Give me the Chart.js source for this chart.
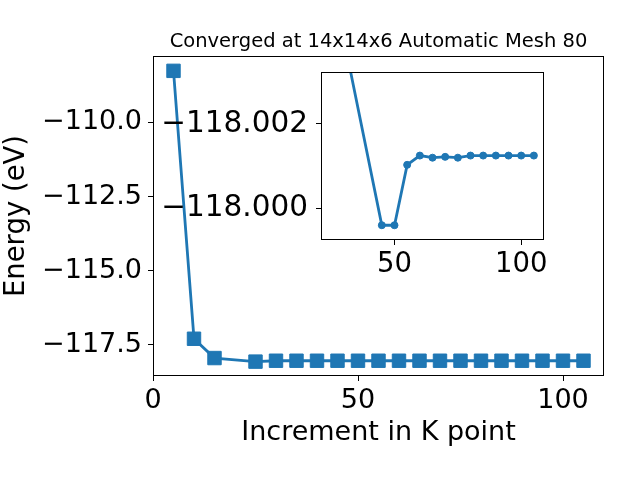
<!DOCTYPE html>
<html>
<head>
<meta charset="utf-8">
<script src="https://cdn.jsdelivr.net/npm/chart.js@4.4.1/dist/chart.umd.min.js"></script>
<style>
  body { margin: 0; background: #fff; }
  #wrap { position: relative; width: 640px; height: 480px; }
  #wrap canvas { position: absolute; left: 0; top: 0; }
</style>
</head>
<body>
<div id="wrap">
  <canvas id="mainChart" width="640" height="480"></canvas>
  <canvas id="insetChart" width="640" height="480"></canvas>
</div>
<script>
// main curve: total energy vs k-point increment
const kPoints = [5, 10, 15, 25, 30, 35, 40, 45, 50, 55, 60, 65, 70, 75, 80, 85, 90, 95, 100, 105];
const energies = [-108.27, -117.29, -117.94, -118.06, -118.03, -118.03, -118.03, -118.03, -118.03, -118.03,
  -118.03, -118.03, -118.03, -118.03, -118.03, -118.03, -118.03, -118.03, -118.03, -118.03];
const xTicks = [0, 50, 100];
const yTicks = [-117.5, -115, -112.5, -110];

// inset: zoom on the converged part
const insetK = [25, 45, 50, 55, 60, 65, 70, 75, 80, 85, 90, 95, 100, 105];
const insetE = [-118.0055, -117.9996, -117.9996, -118.00103, -118.00125, -118.0012, -118.00122, -118.0012,
  -118.00125, -118.00125, -118.00125, -118.00125, -118.00125, -118.00125];
const insetXTicks = [50, 100];
const insetYTicks = [-118.002, -118.000];

const titleText = 'Converged at 14x14x6 Automatic Mesh 80';
const blue = '#1f77b4';
const font = 'DejaVu Sans';

const minus = (s) => s.replace('-', '\u2212');

// black box round the plot area, optional white fill
const framePlugin = {
  id: 'frame',
  beforeDatasetsDraw(chart, args, opts) {
    const a = chart.chartArea;
    if (opts.fill) {
      chart.ctx.save();
      chart.ctx.fillStyle = '#fff';
      chart.ctx.fillRect(a.left, a.top, a.right - a.left, a.bottom - a.top);
      chart.ctx.restore();
    }
  },
  afterDraw(chart) {
    const a = chart.chartArea;
    const ctx = chart.ctx;
    ctx.save();
    ctx.strokeStyle = '#000';
    ctx.lineWidth = 1;
    ctx.strokeRect(Math.round(a.left) + 0.5, Math.round(a.top) + 0.5,
      Math.round(a.right - a.left) - 1, Math.round(a.bottom - a.top) - 1);
    ctx.restore();
  }
};

const titlePlugin = {
  id: 'plotTitle',
  afterDraw(chart) {
    const a = chart.chartArea;
    const ctx = chart.ctx;
    ctx.save();
    ctx.font = '19.5px "' + font + '"';
    ctx.fillStyle = '#000';
    ctx.textAlign = 'center';
    ctx.textBaseline = 'alphabetic';
    ctx.fillText(titleText, (a.left + a.right) / 2, 47);
    ctx.restore();
  }
};

const tickGrid = { display: true, drawOnChartArea: false, drawTicks: true, tickLength: 5, color: '#000' };

new Chart(document.getElementById('mainChart'), {
  type: 'line',
  data: {
    datasets: [{
      data: kPoints.map((k, i) => ({ x: k, y: energies[i] })),
      borderColor: blue,
      backgroundColor: blue,
      borderWidth: 2.8,
      pointStyle: 'rect',
      pointRadius: 9.5,
      pointBorderWidth: 1,
      pointBorderColor: blue,
      pointBackgroundColor: blue,
      tension: 0,
      fill: false
    }]
  },
  options: {
    responsive: false,
    animation: false,
    layout: { padding: { top: 56, right: 36, left: 0, bottom: 0 } },
    plugins: { legend: { display: false }, tooltip: { enabled: false }, frame: { fill: false } },
    scales: {
      x: {
        type: 'linear',
        min: 0,
        max: 110,
        grid: tickGrid,
        border: { display: false },
        afterBuildTicks: (s) => { s.ticks = xTicks.map(v => ({ value: v })); },
        afterFit: (s) => { s.height = 104; },
        ticks: { color: '#000', padding: 4, maxRotation: 0, font: { family: font, size: 27 }, callback: (v) => String(v) },
        title: { display: true, text: 'Increment in K point', color: '#000', padding: { top: 0, bottom: 31 }, font: { family: font, size: 27 } }
      },
      y: {
        type: 'linear',
        min: -118.544,
        max: -107.77,
        grid: tickGrid,
        border: { display: false },
        afterBuildTicks: (s) => { s.ticks = yTicks.map(v => ({ value: v })); },
        afterFit: (s) => { s.width = 153; },
        ticks: { color: '#000', padding: 6, font: { family: font, size: 27 }, callback: (v) => minus(v.toFixed(1)) },
        title: { display: true, text: 'Energy (eV)', color: '#000', padding: { top: 0, bottom: 0 }, font: { family: font, size: 27.5 } }
      }
    }
  },
  plugins: [framePlugin, titlePlugin]
});

new Chart(document.getElementById('insetChart'), {
  type: 'line',
  data: {
    datasets: [{
      data: insetK.map((k, i) => ({ x: k, y: insetE[i] })),
      borderColor: blue,
      backgroundColor: blue,
      borderWidth: 2.8,
      pointStyle: 'circle',
      pointRadius: 3.5,
      pointBorderWidth: 1,
      pointBorderColor: blue,
      pointBackgroundColor: blue,
      tension: 0,
      fill: false
    }]
  },
  options: {
    responsive: false,
    animation: false,
    layout: { padding: { top: 72, right: 96, left: 0, bottom: 0 } },
    plugins: { legend: { display: false }, tooltip: { enabled: false }, frame: { fill: true } },
    scales: {
      x: {
        type: 'linear',
        min: 21,
        max: 109,
        grid: tickGrid,
        border: { display: false },
        afterBuildTicks: (s) => { s.ticks = insetXTicks.map(v => ({ value: v })); },
        afterFit: (s) => { s.height = 240; },
        ticks: { color: '#000', padding: 3, maxRotation: 0, font: { family: font, size: 27.5 }, callback: (v) => String(v) }
      },
      y: {
        type: 'linear',
        reverse: true,
        min: -118.00323,
        max: -117.99925,
        grid: tickGrid,
        border: { display: false },
        afterBuildTicks: (s) => { s.ticks = insetYTicks.map(v => ({ value: v })); },
        afterFit: (s) => { s.width = 321; },
        ticks: { color: '#000', padding: 8, font: { family: font, size: 29.5 }, callback: (v) => minus(v.toFixed(3)) }
      }
    }
  },
  plugins: [framePlugin]
});
</script>
</body>
</html>
